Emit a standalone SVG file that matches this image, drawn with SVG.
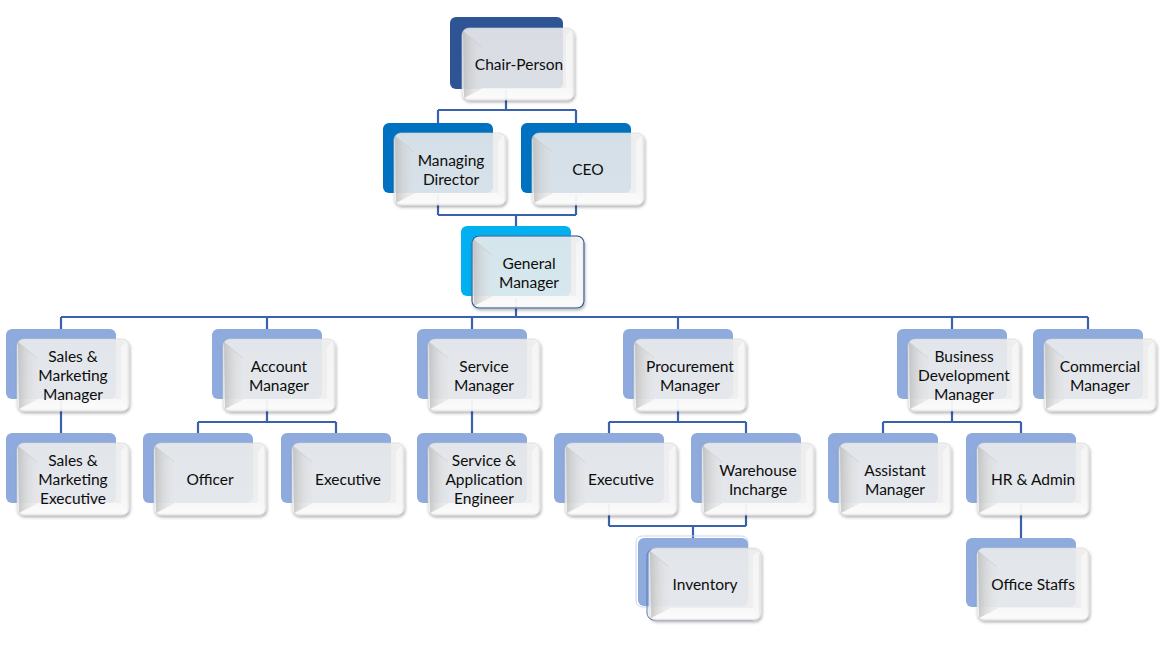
<svg xmlns="http://www.w3.org/2000/svg" width="1168" height="645" viewBox="0 0 1168 645">
<style>
  .bk{fill:#8FAADC}
  .bk1{fill:#2F5496}
  .bk2{fill:#0070C0}
  .bk3{fill:#00B0F0}
  .t{font-family:Lato,"Open Sans","Liberation Sans",sans-serif;font-size:15.5px;fill:#0D0D0D;text-anchor:middle;dominant-baseline:central}
  .c{fill:none;stroke:#3A62AC;stroke-width:2.2}
</style>
<defs>
  <filter id="sh" x="-10%" y="-10%" width="125%" height="130%">
    <feDropShadow dx="1" dy="2" stdDeviation="1.6" flood-color="#000" flood-opacity="0.35"/>
  </filter>
  <linearGradient id="lg" x1="0" y1="0" x2="1" y2="0">
    <stop offset="0" stop-color="#B8B8B8" stop-opacity="0.75"/>
    <stop offset="1" stop-color="#E0E0E0" stop-opacity="0.1"/>
  </linearGradient>
  <linearGradient id="fg" x1="0" y1="0" x2="0" y2="1">
    <stop offset="0" stop-color="#F0F0F0"/>
    <stop offset="0.8" stop-color="#F2F2F2"/>
    <stop offset="1" stop-color="#FAFAFA"/>
  </linearGradient>
  <g id="card">
    <rect x="0" y="0" width="112" height="72" rx="7" fill="url(#fg)" fill-opacity="0.86" stroke="#D4D4D4" stroke-width="0.6" filter="url(#sh)"/>
    <polygon points="1,3 20,19 20,60 2,70" fill="url(#lg)"/>
    <polygon points="2,70 20,60 104,60 110,70" fill="#FFFFFF" fill-opacity="0.55"/>
    <polygon points="110,2 104,8 104,60 110,70" fill="#FFFFFF" fill-opacity="0.45"/>
    <polyline points="1,3 20,19" fill="none" stroke="#C8C8C8" stroke-width="0.6"/>
    <polyline points="2,70 20,60" fill="none" stroke="#DDDDDD" stroke-width="0.6"/>
  </g>
</defs>
<rect width="1168" height="645" fill="#FFFFFF"/>

<g id="connectors">
  <path class="c" d="M506,90 V110 M438,110 H576 M438,110 V123 M576,110 V123"/>
  <path class="c" d="M438,195 V215 M576,195 V215 M438,215 H576 M516,215 V226"/>
  <path class="c" d="M516,298 V317 M61,317 H1088 M61,317 V329 M267,317 V329 M472,317 V329 M678,317 V329 M952,317 V329 M1088,317 V329"/>
  <path class="c" d="M61,400 V433"/>
  <path class="c" d="M267,400 V422 M198,422 H336 M198,422 V433 M336,422 V433"/>
  <path class="c" d="M472,400 V433"/>
  <path class="c" d="M678,400 V422 M609,422 H746 M609,422 V433 M746,422 V433"/>
  <path class="c" d="M952,400 V422 M883,422 H1021 M883,422 V433 M1021,422 V433"/>
  <path class="c" d="M609,504 V526 M746,504 V526 M609,526 H746"/>
  <path class="c" stroke-width="3.5" d="M693,526 V538"/>
  <path class="c" d="M1021,504 V538"/>
</g>

<g id="n-chair">
  <rect class="bk1" x="450" y="17" width="113" height="72" rx="6"/>
  <use href="#card" x="462" y="28"/>
  <text class="t" x="519" y="64">Chair-Person</text>
</g>
<g id="n-md">
  <rect class="bk2" x="383" y="123" width="110" height="70" rx="6"/>
  <use href="#card" x="394" y="133"/>
  <text class="t" x="451" y="159.5">Managing</text>
  <text class="t" x="451" y="178.5">Director</text>
</g>
<g id="n-ceo">
  <rect class="bk2" x="521" y="123" width="110" height="70" rx="6"/>
  <use href="#card" x="532" y="133"/>
  <text class="t" x="588" y="169">CEO</text>
</g>
<g id="n-gm">
  <rect class="bk3" x="461" y="226" width="110" height="70" rx="6"/>
  <use href="#card" x="472" y="236"/>
  <rect x="472" y="236" width="112" height="72" rx="7" fill="none" stroke="#2F5597" stroke-width="1.1"/>
  <text class="t" x="529" y="262.5">General</text>
  <text class="t" x="529" y="281.5">Manager</text>
</g>

<g id="n-smm">
  <rect class="bk" x="6" y="329" width="110" height="70" rx="6"/>
  <use href="#card" x="17" y="339"/>
  <text class="t" x="73" y="356">Sales &amp;</text>
  <text class="t" x="73" y="375">Marketing</text>
  <text class="t" x="73" y="394">Manager</text>
</g>
<g id="n-acc">
  <rect class="bk" x="212" y="329" width="110" height="70" rx="6"/>
  <use href="#card" x="223" y="339"/>
  <text class="t" x="279" y="365.5">Account</text>
  <text class="t" x="279" y="384.5">Manager</text>
</g>
<g id="n-svc">
  <rect class="bk" x="417" y="329" width="110" height="70" rx="6"/>
  <use href="#card" x="428" y="339"/>
  <text class="t" x="484" y="365.5">Service</text>
  <text class="t" x="484" y="384.5">Manager</text>
</g>
<g id="n-proc">
  <rect class="bk" x="623" y="329" width="110" height="70" rx="6"/>
  <use href="#card" x="634" y="339"/>
  <text class="t" x="690" y="365.5">Procurement</text>
  <text class="t" x="690" y="384.5">Manager</text>
</g>
<g id="n-bdm">
  <rect class="bk" x="897" y="329" width="110" height="70" rx="6"/>
  <use href="#card" x="908" y="339"/>
  <text class="t" x="964" y="356">Business</text>
  <text class="t" x="964" y="375">Development</text>
  <text class="t" x="964" y="394">Manager</text>
</g>
<g id="n-com">
  <rect class="bk" x="1033" y="329" width="110" height="70" rx="6"/>
  <use href="#card" x="1044" y="339"/>
  <text class="t" x="1100" y="365.5">Commercial</text>
  <text class="t" x="1100" y="384.5">Manager</text>
</g>

<g id="n-sme">
  <rect class="bk" x="6" y="433" width="110" height="70" rx="6"/>
  <use href="#card" x="17" y="443"/>
  <text class="t" x="73" y="460">Sales &amp;</text>
  <text class="t" x="73" y="479">Marketing</text>
  <text class="t" x="73" y="498">Executive</text>
</g>
<g id="n-officer">
  <rect class="bk" x="143" y="433" width="110" height="70" rx="6"/>
  <use href="#card" x="154" y="443"/>
  <text class="t" x="210" y="479">Officer</text>
</g>
<g id="n-accexec">
  <rect class="bk" x="281" y="433" width="110" height="70" rx="6"/>
  <use href="#card" x="292" y="443"/>
  <text class="t" x="348" y="479">Executive</text>
</g>
<g id="n-sae">
  <rect class="bk" x="417" y="433" width="110" height="70" rx="6"/>
  <use href="#card" x="428" y="443"/>
  <text class="t" x="484" y="460">Service &amp;</text>
  <text class="t" x="484" y="479">Application</text>
  <text class="t" x="484" y="498">Engineer</text>
</g>
<g id="n-procexec">
  <rect class="bk" x="554" y="433" width="110" height="70" rx="6"/>
  <use href="#card" x="565" y="443"/>
  <text class="t" x="621" y="479">Executive</text>
</g>
<g id="n-wh">
  <rect class="bk" x="691" y="433" width="110" height="70" rx="6"/>
  <use href="#card" x="702" y="443"/>
  <text class="t" x="758" y="469.5">Warehouse</text>
  <text class="t" x="758" y="488.5">Incharge</text>
</g>
<g id="n-asst">
  <rect class="bk" x="828" y="433" width="110" height="70" rx="6"/>
  <use href="#card" x="839" y="443"/>
  <text class="t" x="895" y="469.5">Assistant</text>
  <text class="t" x="895" y="488.5">Manager</text>
</g>
<g id="n-hr">
  <rect class="bk" x="966" y="433" width="110" height="70" rx="6"/>
  <use href="#card" x="977" y="443"/>
  <text class="t" x="1033" y="479">HR &amp; Admin</text>
</g>

<g id="n-inv">
  <rect x="636" y="536" width="112" height="71" rx="6" fill="none" stroke="#C9D6EE" stroke-width="1"/>
  <rect class="bk" x="638" y="538" width="110" height="68" rx="6"/>
  <rect x="647" y="549" width="112" height="71" rx="7" fill="none" stroke="#5B7FC0" stroke-width="1"/>
  <use href="#card" x="649" y="548"/>
  <text class="t" x="705" y="584">Inventory</text>
</g>
<g id="n-office">
  <rect class="bk" x="966" y="538" width="110" height="69" rx="6"/>
  <use href="#card" x="977" y="548"/>
  <text class="t" x="1033" y="584">Office Staffs</text>
</g>
</svg>
